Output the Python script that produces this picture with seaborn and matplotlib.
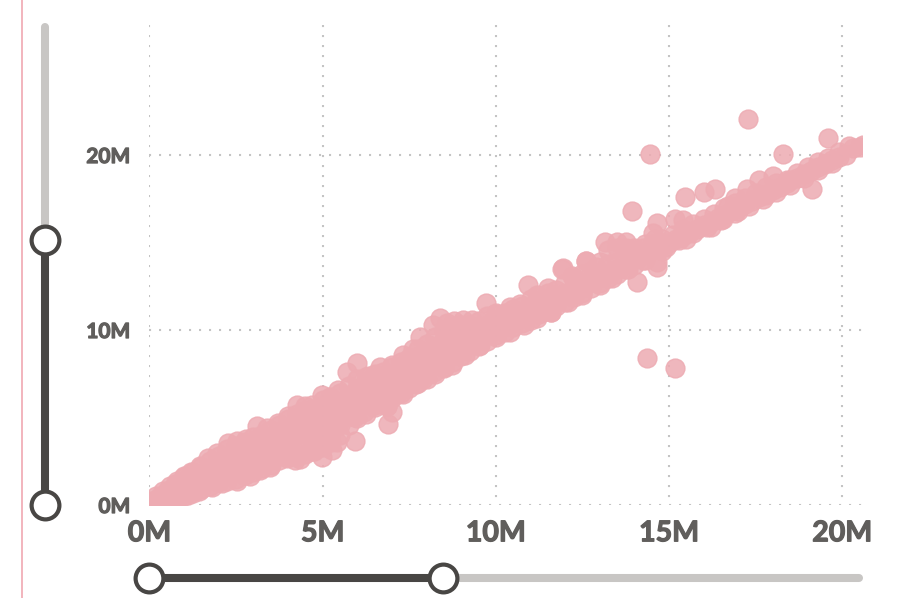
import matplotlib
import matplotlib.pyplot as plt
import matplotlib.patheffects as pe
import pandas as pd
import seaborn as sns
from matplotlib.lines import Line2D

matplotlib.use('Agg')

# All values in millions
spine_x = [0.0, 0.1, 0.2, 0.35, 0.5, 0.65, 0.8, 1.0, 1.2, 1.4, 1.6, 1.8, 2.0, 2.2, 2.4, 2.6, 2.8, 3.0, 3.3, 3.6,
           3.9, 4.2, 4.5, 4.8, 5.1, 5.4, 5.7, 6.0, 6.3, 6.6, 6.9, 7.2, 7.5, 7.8, 8.1, 8.4, 8.7, 9.0, 9.3, 9.6,
           9.9, 10.2, 10.5, 10.8, 11.1, 11.4, 11.7, 12.0, 12.3, 12.6, 12.9, 13.2, 13.5, 13.8, 14.1, 14.4, 14.7, 15.0, 15.2, 15.4,
           15.6, 15.8, 16.0, 16.2, 16.4, 16.6, 16.8, 17.0, 17.2, 17.4, 17.6, 17.8, 18.0, 18.2, 18.4, 18.7, 18.9, 19.1, 19.3, 19.5,
           19.7, 19.9, 20.3, 20.6]
spine_y = [0.0, 0.1, 0.2, 0.35, 0.5, 0.65, 0.8, 1.0, 1.2, 1.4, 1.6, 1.8, 2.0, 2.2, 2.4, 2.6, 2.8, 3.0, 3.3, 3.6,
           3.9, 4.2, 4.5, 4.8, 5.1, 5.4, 5.7, 6.0, 6.3, 6.6, 6.9, 7.2, 7.5, 7.8, 8.1, 8.4, 8.7, 9.0, 9.3, 9.6,
           9.9, 10.2, 10.5, 10.8, 11.1, 11.4, 11.7, 12.0, 12.3, 12.6, 12.9, 13.2, 13.5, 13.8, 14.1, 14.4, 14.7, 15.0, 15.2, 15.4,
           15.6, 15.8, 16.0, 16.2, 16.4, 16.6, 16.8, 17.0, 17.2, 17.4, 17.6, 17.8, 18.0, 18.2, 18.4, 18.7, 18.9, 19.1, 19.3, 19.5,
           19.7, 19.9, 20.4, 20.6]

upper_x = [0.0, 0.2, 0.4, 0.6, 0.8, 1.0, 1.2, 1.45, 1.7, 1.95, 2.27, 2.53, 2.8, 3.1, 3.4, 3.7, 4.0, 4.26, 4.49, 4.7,
           4.98, 5.2, 5.45, 5.7, 6.0, 6.3, 6.66, 7.0, 7.32, 7.6, 7.81, 8.18, 8.39, 8.6, 8.8, 9.05, 9.3, 9.72, 10.0, 10.4,
           10.7, 10.93, 11.2, 11.5, 11.94, 12.2, 12.6, 12.9, 13.15, 13.5, 13.76, 14.0, 14.3, 14.6]
upper_y = [0.25, 0.5, 0.8, 1.1, 1.4, 1.65, 1.9, 2.25, 2.69, 3.0, 3.54, 3.66, 3.75, 4.51, 4.4, 4.7, 5.1, 5.71, 5.66, 5.7,
           6.29, 6.2, 6.6, 7.6, 8.11, 7.4, 7.89, 8.0, 8.57, 8.9, 9.6, 10.29, 10.69, 10.4, 10.5, 10.57, 10.6, 11.54, 11.0, 11.3,
           11.5, 12.57, 12.0, 12.4, 13.54, 13.1, 13.94, 13.6, 15.03, 15.03, 15.03, 14.7, 14.9, 15.2]

lower_x = [0.4, 0.6, 0.8, 1.1, 1.43, 1.8, 2.1, 2.53, 2.9, 3.2, 3.48, 3.97, 4.2, 4.35, 4.7, 4.98, 5.27, 5.41, 5.5, 5.93, 6.2,
           6.5, 6.86, 7.14, 7.32, 7.7, 7.9, 8.2, 8.5, 8.73, 9.1, 9.54, 10.0, 10.4, 10.8, 11.2, 11.6, 12.08, 12.5, 13.0, 13.36,
           13.8, 14.3, 14.8, 15.5, 16.2, 17.0, 17.8]
lower_y = [0.0, 0.0, 0.3, 0.6, 0.8, 1.05, 1.25, 1.37, 1.66, 2.0, 2.17, 2.69, 2.57, 2.63, 3.1, 2.74, 3.14, 3.6, 4.86, 5.03, 5.3,
           5.7, 5.66, 6.34, 6.34, 6.9, 7.2, 7.6, 7.83, 8.0, 8.6, 9.14, 9.6, 9.9, 10.3, 10.7, 11.03, 11.6, 12.0, 12.6, 13.0,
           13.5, 14.0, 14.5, 15.2, 15.9, 16.8, 17.7]

# thicker run of the band above 14M
ridge_x = [14.5, 14.8, 15.1, 15.4, 15.7, 16.0, 16.3, 16.6, 16.9, 17.2, 17.5, 17.8, 18.1, 18.4, 18.7, 19.0, 19.3, 19.6, 19.9, 20.2,
           14.9, 15.3, 15.7, 16.1, 16.5, 16.9, 17.3, 17.7, 18.1, 18.5, 18.9, 19.3, 19.7, 20.1, 20.5]
ridge_y = [14.9, 15.2, 15.45, 15.75, 16.05, 16.35, 16.65, 16.95, 17.25, 17.55, 17.85, 18.15, 18.4, 18.6, 19.0, 19.3, 19.6, 19.85, 20.15, 20.5,
           14.75, 15.15, 15.55, 15.9, 16.3, 16.7, 17.1, 17.5, 17.9, 18.3, 18.7, 19.15, 19.55, 20.0, 20.45]

# the solid body of the cloud, one list of y readings per x column
body_x = [0.25, 0.5, 0.75, 1.0, 1.25, 1.5, 1.75, 2.0, 2.25, 2.5, 2.75, 3.0, 3.25, 3.5, 3.75, 4.0, 4.25, 4.5, 4.75, 5.0,
          5.25, 5.5, 5.75, 6.0, 6.25, 6.5, 6.75, 7.0, 7.25, 7.5, 7.75, 8.0, 8.25, 8.5, 8.75, 9.0, 9.25, 9.5, 9.75, 10.0,
          10.25, 10.5, 10.75, 11.0, 11.25, 11.5, 11.75, 12.0, 12.25, 12.5, 12.75, 13.0, 13.25, 13.5, 13.75, 14.0, 14.25]
body_y = [[0, 0.4], [0, 0.4, 0.8], [0.3, 0.8, 1.2], [0.5, 1.0, 1.6], [0.7, 1.2, 1.9],
          [0.9, 1.4, 1.8, 2.2], [1.1, 1.6, 2.1, 2.5], [1.3, 1.8, 2.3, 2.8], [1.4, 1.9, 2.4, 2.8, 3.2], [1.5, 2.0, 2.5, 3.0, 3.4],
          [1.7, 2.2, 2.7, 3.2, 3.6], [1.9, 2.4, 2.9, 3.4, 3.9], [2.1, 2.6, 3.1, 3.6, 4.0], [2.3, 2.8, 3.3, 3.8, 4.3], [2.6, 3.1, 3.6, 4.1, 4.6],
          [2.8, 3.3, 3.8, 4.4, 4.9], [2.8, 3.4, 4.0, 4.6, 5.2], [2.9, 3.5, 4.1, 4.8, 5.4], [3.1, 3.7, 4.3, 4.9, 5.5], [3.3, 3.9, 4.5, 5.2, 6.0],
          [3.6, 4.2, 4.8, 5.5, 6.1], [4.0, 4.6, 5.2, 5.8, 6.4], [4.6, 5.1, 5.7, 6.3, 6.8], [5.0, 5.6, 6.2, 6.7, 7.2], [5.2, 5.8, 6.4, 6.9, 7.3],
          [5.6, 6.1, 6.6, 7.1, 7.5], [5.8, 6.3, 6.8, 7.2, 7.6], [6.1, 6.6, 7.1, 7.5, 7.9], [6.4, 6.9, 7.4, 7.8, 8.2], [6.7, 7.2, 7.7, 8.1, 8.4],
          [7.0, 7.5, 8.0, 8.5, 8.9], [7.2, 7.7, 8.2, 8.7, 9.2], [7.5, 8.0, 8.6, 9.1, 9.6], [7.9, 8.4, 8.9, 9.5, 10.0], [8.2, 8.7, 9.2, 9.7, 10.2],
          [8.5, 9.0, 9.5, 9.9, 10.3], [8.8, 9.2, 9.7, 10.0, 10.3], [9.1, 9.6, 10.0, 10.5], [9.4, 9.9, 10.3, 10.8], [9.7, 10.2, 10.6, 10.9],
          [9.9, 10.4, 11.0], [10.2, 10.7, 11.2], [10.4, 10.9, 11.4], [10.6, 11.2, 11.8], [10.9, 11.4, 11.9],
          [11.1, 11.6, 12.1], [11.4, 11.9, 12.3], [11.6, 12.1, 12.7], [11.9, 12.4, 13.0], [12.1, 12.7, 13.2],
          [12.4, 12.9, 13.4], [12.7, 13.3, 13.9], [13.0, 13.8, 14.6], [13.2, 13.9, 14.7], [13.5, 14.1, 14.7],
          [13.7, 14.1, 14.5], [14.0, 14.7]]

stray_x = [17.28, 19.6, 18.3, 14.45, 13.93, 19.13, 15.46, 16.0, 16.33, 17.6, 18.0, 17.25, 18.5, 16.9, 15.17, 15.4, 14.65, 14.55,
           14.65, 14.65, 14.08, 14.37, 15.17, 11.9, 12.6, 11.6, 5.93, 6.89, 7.0, 6.86, 16.56, 16.7]
stray_y = [22.06, 21.0, 20.05, 20.05, 16.8, 18.06, 17.6, 17.9, 18.06, 18.57, 18.8, 18.06, 18.6, 17.54, 16.34, 16.3, 16.1, 15.54,
           13.9, 13.6, 12.74, 8.4, 7.83, 13.5, 13.94, 11.03, 3.66, 4.63, 5.31, 5.66, 16.34, 17.1]

tick_values = [0, 5, 10, 15, 20]
y_tick_values = [0, 10, 20]
x_limit = 20.57
y_limit = 27.43
x_slider = [0, 8.47]
y_slider = [0, 15.14]

PINK = '#edabb2'
TEXT = '#605e5c'
DARK = '#484644'
GREY = '#c8c6c4'

column_x = [x for x, ys in zip(body_x, body_y) for _ in ys]
column_y = [y for ys in body_y for y in ys]
points = pd.DataFrame({
    'x': spine_x + upper_x + lower_x + ridge_x + column_x + stray_x,
    'y': spine_y + upper_y + lower_y + ridge_y + column_y + stray_y,
})

sns.set_theme(style='white')
plt.rcParams['font.family'] = ['Lato', 'DejaVu Sans']

fig = plt.figure(figsize=(9.04, 5.98), dpi=100, facecolor='white')
ax = fig.add_axes([149.5 / 904, 93 / 598, 712.5 / 904, 480 / 598])

ax.grid(True, axis='x', color='#c4c4c4', linewidth=1.5, linestyle=(1, (1, 3.8)))
ax.grid(True, axis='y', color='#c4c4c4', linewidth=1.5, linestyle=(0, (1, 3.8)))
ax.set_axisbelow(True)
sns.scatterplot(data=points, x='x', y='y', ax=ax, s=185, color=PINK, alpha=0.85,
                edgecolor=PINK, linewidth=1, legend=False)

ax.set_xlim(0, x_limit)
ax.set_ylim(0, y_limit)
ax.set_xticks(tick_values)
ax.set_xticklabels([f'{v}M' for v in tick_values], fontsize=20.5, fontweight='bold', color=TEXT)
ax.set_yticks(y_tick_values)
ax.set_yticklabels([f'{v}M' for v in y_tick_values], fontsize=15, fontweight='bold', color=TEXT)
# the installed faces come out light, so thicken the strokes a little
for label in ax.get_xticklabels() + ax.get_yticklabels():
    label.set_path_effects([pe.withStroke(linewidth=0.9, foreground=TEXT)])
ax.tick_params(axis='x', length=0, pad=11)
ax.tick_params(axis='y', length=0, pad=14)
ax.set_xlabel('')
ax.set_ylabel('')
sns.despine(ax=ax, left=True, bottom=True)

# Range sliders sit outside the axes, tied to the data scale along their length
slider_y = ax.get_yaxis_transform()
slider_x = ax.get_xaxis_transform()
track_style = dict(linewidth=5.8, solid_capstyle='round', clip_on=False)
handle_style = dict(linestyle='none', marker='o', markersize=20, markerfacecolor='white',
                    markeredgecolor=DARK, markeredgewidth=3, clip_on=False, zorder=5)

ax.plot([-0.1467, -0.1467], [y_slider[1], y_limit - 0.1], color=GREY, transform=slider_y, **track_style)
ax.plot([-0.1467, -0.1467], y_slider, color=DARK, transform=slider_y, **track_style)
ax.plot([-0.1467, -0.1467], y_slider, transform=slider_y, **handle_style)

ax.plot([x_slider[1], x_limit - 0.1], [-0.152, -0.152], color=GREY, transform=slider_x, **track_style)
ax.plot(x_slider, [-0.152, -0.152], color=DARK, transform=slider_x, **track_style)
ax.plot(x_slider, [-0.152, -0.152], transform=slider_x, **handle_style)

# Thin pink rule at the left edge of the page
fig.add_artist(Line2D([22 / 904, 22 / 904], [0, 1], color='#f0a8b2', linewidth=1.2))

fig.savefig('out.png', dpi=100)
plt.close(fig)
